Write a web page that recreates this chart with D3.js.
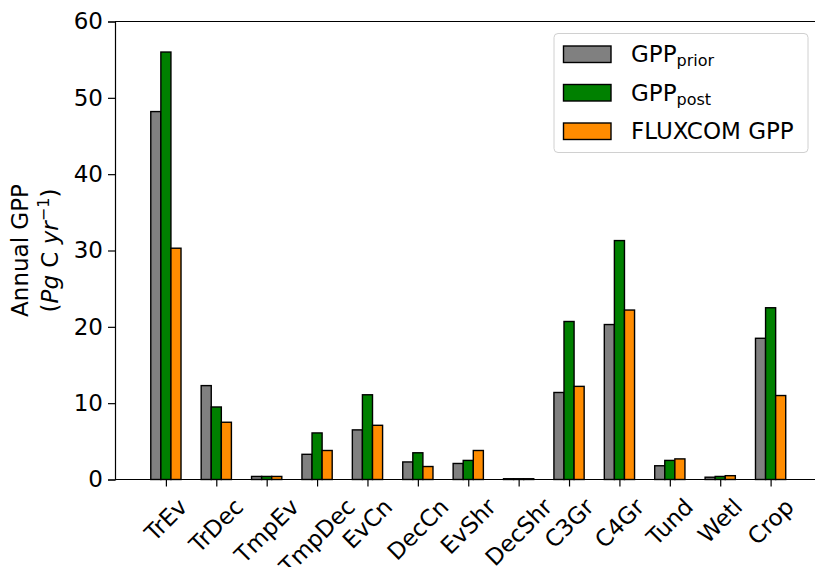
<!DOCTYPE html>
<html>
<head>
<meta charset="utf-8">
<script src="https://cdn.jsdelivr.net/npm/d3@7"></script>
<style>
  body { margin: 0; background: #fff; }
  text { font-family: "DejaVu Sans", sans-serif; fill: #000; }
</style>
</head>
<body>
<svg id="chart" width="815" height="567"></svg>
<script>
// plant functional types
var pfts = ["TrEv", "TrDec", "TmpEv", "TmpDec", "EvCn", "DecCn", "EvShr", "DecShr", "C3Gr", "C4Gr", "Tund", "Wetl", "Crop"];
var gppPrior   = [48.2, 12.3, 0.4, 3.3, 6.5, 2.3, 2.1, 0.1, 11.4, 20.3, 1.8, 0.3, 18.5];
var gppPost    = [56.0, 9.5, 0.4, 6.1, 11.1, 3.5, 2.5, 0.1, 20.7, 31.3, 2.5, 0.4, 22.5];
var fluxcomGpp = [30.3, 7.5, 0.4, 3.8, 7.1, 1.7, 3.8, 0.1, 12.2, 22.2, 2.7, 0.5, 11.0];
var yTicks = [0, 10, 20, 30, 40, 50, 60];

var series = [
    {name: "GPP", sub: "prior", values: gppPrior, color: "#808080"},
    {name: "GPP", sub: "post", values: gppPost, color: "#008000"},
    {name: "FLUXCOM GPP", sub: null, values: fluxcomGpp, color: "#ff8c00"}
];

var svg = d3.select("#chart");
var mLeft = 115, mRight = 821, mTop = 21.5, mBottom = 479.5;
var fs = 23, subFs = 16;

// categories sit on integer positions, bars are 0.2 wide
var x = d3.scaleLinear().domain([-1.01, 13.0]).range([mLeft, mRight]);
var y = d3.scaleLinear().domain([0, 60]).range([mBottom, mTop]);
var barW = 0.2;

// bars
series.forEach(function(s, si){
    svg.append("g").selectAll("rect")
        .data(s.values)
        .enter()
        .append("rect")
        .attr("x", function(d, i){ return x(i + (si - 1) * barW - barW / 2); })
        .attr("width", x(barW) - x(0))
        .attr("y", function(d){ return y(d); })
        .attr("height", function(d){ return y(0) - y(d); })
        .attr("fill", s.color)
        .attr("stroke", "#000")
        .attr("stroke-width", 1.4);
});

// top spine
svg.append("line").attr("x1", mLeft).attr("x2", 815).attr("y1", mTop).attr("y2", mTop)
    .attr("stroke", "#000").attr("stroke-width", 1.2);

// y axis
var yAxis = d3.axisLeft(y).tickValues(yTicks).tickSize(7).tickPadding(5);
var gy = svg.append("g").attr("transform", "translate(" + mLeft + ",0)").call(yAxis);
gy.select(".domain").attr("stroke", "#000").attr("stroke-width", 1.2);
gy.selectAll(".tick line").attr("stroke", "#000").attr("stroke-width", 1.2);
gy.selectAll(".tick text").style("font-size", fs + "px").style("font-family", "DejaVu Sans");

// x axis
var xAxis = d3.axisBottom(x).tickValues(d3.range(pfts.length)).tickSize(7).tickFormat("");
var gx = svg.append("g").attr("transform", "translate(0," + mBottom + ")").call(xAxis);
gx.select(".domain").attr("d", "M" + mLeft + ",0H815").attr("stroke", "#000").attr("stroke-width", 1.2);
gx.selectAll(".tick line").attr("stroke", "#000").attr("stroke-width", 1.2);

// rotated tick labels, bounding box centred on tick (matplotlib style)
var labTop = 495;
pfts.forEach(function(p, i){
    var t = svg.append("text")
        .attr("text-anchor", "middle")
        .attr("dominant-baseline", "central")
        .style("font-size", fs + "px")
        .text(p);
    var w = t.node().getComputedTextLength();
    var half = (w + fs * 0.95) * Math.SQRT1_2 / 2;
    t.attr("transform", "translate(" + x(i) + "," + (labTop + half) + ") rotate(-45)");
});

// y label, two lines
var ymid = (mTop + mBottom) / 2;
svg.append("text")
    .attr("transform", "translate(28," + ymid + ") rotate(-90)")
    .attr("text-anchor", "middle")
    .style("font-size", fs + "px")
    .text("Annual GPP");
var l2 = svg.append("text")
    .attr("transform", "translate(58," + ymid + ") rotate(-90)")
    .attr("text-anchor", "middle")
    .style("font-size", fs + "px");
l2.append("tspan").text("(");
l2.append("tspan").style("font-style", "italic").text("Pg");
l2.append("tspan").text(" C ");
l2.append("tspan").style("font-style", "italic").text("yr");
l2.append("tspan").attr("dy", -9).style("font-size", subFs + "px").text("\u22121");
l2.append("tspan").attr("dy", 9).text(")");

// legend
var lg = svg.append("g");
lg.append("rect").attr("x", 554).attr("y", 33.5).attr("width", 254).attr("height", 119)
    .attr("rx", 4).attr("fill", "#fff").attr("fill-opacity", 0.8)
    .attr("stroke", "#d0d0d0").attr("stroke-width", 1);
series.forEach(function(s, si){
    var cy = 54 + si * 38.5;
    lg.append("rect").attr("x", 563.5).attr("y", cy - 8).attr("width", 47.5).attr("height", 16.5)
        .attr("fill", s.color).attr("stroke", "#000").attr("stroke-width", 1.4);
    var t = lg.append("text").attr("x", 631).attr("y", cy + 8).style("font-size", fs + "px");
    t.append("tspan").text(s.name);
    if (s.sub) {
        t.append("tspan").attr("dy", 4).style("font-size", subFs + "px").text(s.sub);
    }
});
</script>
</body>
</html>
